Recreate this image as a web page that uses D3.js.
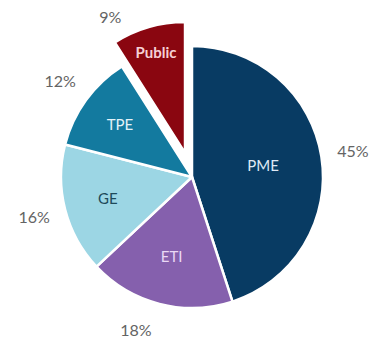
<!DOCTYPE html>
<html><head><meta charset="utf-8">
<script src="https://cdn.jsdelivr.net/npm/d3@7"></script>
<style>body{margin:0;background:#fff}svg{display:block}</style>
</head><body>
<script>
const categories = ["PME", "ETI", "GE", "TPE", "Public"];
const values = [45, 18, 16, 12, 9];
const percentLabels = ["45%", "18%", "16%", "12%", "9%"];

const colors = ["#083b63", "#8560ad", "#9cd6e4", "#137a9f", "#8a0610"];
const innerTextColors = ["#dfe9f5", "#ead9f5", "#1e4a5a", "#e2f2f8", "#f6d0d6"];
const innerLabelR = [72, 82, 87, 89, 104];
const explode = [0, 0, 0, 0, 25];

const W = 374, H = 338, cx = 192, cy = 177, R = 131;
const svg = d3.select("body").append("svg").attr("width", W).attr("height", H);
const g = svg.append("g").attr("transform", `translate(${cx},${cy})`);

const pie = d3.pie().sort(null).value(d => d);
const arcs = pie(values);
const arc = d3.arc().innerRadius(0).outerRadius(R);

const slice = g.selectAll("g.s").data(arcs).enter().append("g")
  .attr("transform", (d, i) => {
    const a = (d.startAngle + d.endAngle) / 2;
    return `translate(${Math.sin(a) * explode[i]},${-Math.cos(a) * explode[i]})`;
  });

slice.append("path").attr("d", arc)
  .attr("fill", (d, i) => colors[i])
  .attr("stroke", "#fff").attr("stroke-width", 2.5).attr("stroke-linejoin", "round");

slice.append("text")
  .attr("transform", (d, i) => {
    const a = (d.startAngle + d.endAngle) / 2;
    return `translate(${Math.sin(a) * innerLabelR[i]},${-Math.cos(a) * innerLabelR[i]})`;
  })
  .attr("text-anchor", "middle").attr("dy", "0.35em")
  .attr("font-family", "Lato, 'Open Sans', sans-serif")
  .attr("font-size", 15).attr("font-weight", (d, i) => i === 4 ? 700 : 400)
  .attr("fill", (d, i) => innerTextColors[i])
  .text((d, i) => categories[i]);

const outerR = 163;
slice.append("text")
  .attr("transform", (d, i) => {
    let a = (d.startAngle + d.endAngle) / 2;
    let r = outerR;
    if (i === 4) { a -= 0.22; r = 155; }
    if (i === 1) { a += 0.1; }
    return `translate(${Math.sin(a) * r},${-Math.cos(a) * r})`;
  })
  .attr("text-anchor", "middle").attr("dy", "0.35em")
  .attr("font-family", "Lato, 'Open Sans', sans-serif")
  .attr("font-size", 16).attr("fill", "#646464")
  .text((d, i) => percentLabels[i]);
</script>
</body></html>
